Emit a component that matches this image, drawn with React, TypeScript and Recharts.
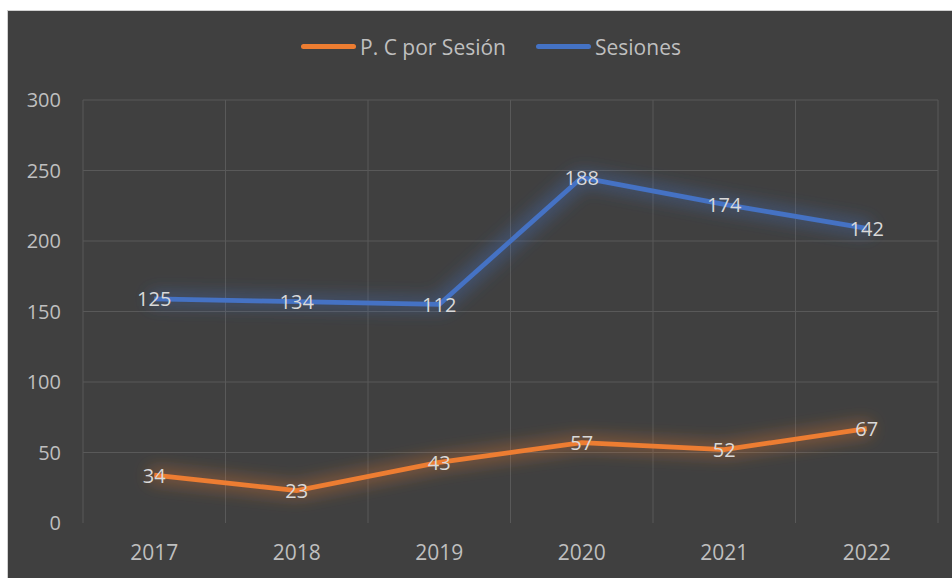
import React from 'react';
import { ComposedChart, Area, XAxis, YAxis, CartesianGrid, Legend, LabelList } from 'recharts';

const years = ['2017', '2018', '2019', '2020', '2021', '2022'];
const pcPorSesion = [34, 23, 43, 57, 52, 67];
const sesiones = [125, 134, 112, 188, 174, 142];
const yTicks = [0, 50, 100, 150, 200, 250, 300];

const ORANGE = '#ED7D31';
const BLUE = '#4472C4';
const BG = '#404040';
const GRID = '#595959';
const AXIS_TEXT = '#BFBFBF';
const LABEL_TEXT = '#D9D9D9';
const FONT = '"Open Sans", "Noto Sans", sans-serif';

const data = years.map((y, i) => ({ year: y, pc: pcPorSesion[i], ses: sesiones[i] }));

const seriesInfo = [
  { key: 'pc', name: 'P. C por Sesión', color: ORANGE },
  { key: 'ses', name: 'Sesiones', color: BLUE },
];

const renderLabel = (props: any) => {
  const { x, y, value } = props;
  return (
    <text x={x} y={y} textAnchor="middle" dominantBaseline="central" fill={LABEL_TEXT} fontSize={20} fontFamily={FONT}>
      {value}
    </text>
  );
};

const LegendContent = () => (
  <div style={{ display: 'flex', justifyContent: 'center', alignItems: 'center', paddingLeft: 22, fontFamily: FONT, fontSize: 21, color: AXIS_TEXT, height: 27 }}>
    {seriesInfo.map((s, i) => (
      <div key={s.key} style={{ display: 'flex', alignItems: 'center', marginRight: i === 0 ? 30 : 0 }}>
        <div style={{ width: 55, height: 5, borderRadius: 3, background: s.color, marginRight: 4 }} />
        <span>{s.name}</span>
      </div>
    ))}
  </div>
);

const glowFilter = (id: string) => (
  <filter id={id} x="-20%" y="-60%" width="140%" height="220%">
    <feMorphology in="SourceGraphic" operator="dilate" radius="5" result="d" />
    <feGaussianBlur in="d" stdDeviation="8" result="b" />
    <feComponentTransfer in="b" result="bt">
      <feFuncA type="linear" slope="0.35" />
    </feComponentTransfer>
    <feMerge>
      <feMergeNode in="bt" />
      <feMergeNode in="SourceGraphic" />
    </feMerge>
  </filter>
);

export default function App() {
  return (
    <div style={{ position: 'fixed', left: 7, top: 10, borderLeft: '1px solid #D0D0D0', borderTop: '1px solid #D0D0D0', background: BG, width: 944, height: 567 }}>
      <style>{`.glow-orange .recharts-area-curve{filter:url(#glowO);} .glow-blue .recharts-area-curve{filter:url(#glowB);}`}</style>
      <svg width={0} height={0} style={{ position: 'absolute' }}>
        <defs>
          {glowFilter('glowO')}
          {glowFilter('glowB')}
        </defs>
      </svg>
      <ComposedChart width={944} height={567} data={data} margin={{ top: 62, right: 14, bottom: 25, left: 0 }}>
        <CartesianGrid
          stroke={GRID}
          strokeWidth={1}
          horizontalCoordinatesGenerator={({ offset }: any) =>
            Array.from({ length: yTicks.length - 1 }, (_, i) => offset.top + (i * offset.height) / (yTicks.length - 1))
          }
          verticalCoordinatesGenerator={({ offset }: any) =>
            Array.from({ length: years.length + 1 }, (_, i) => offset.left + (i * offset.width) / years.length)
          }
        />
        <XAxis
          dataKey="year"
          scale="band"
          height={30}
          axisLine={false}
          tickLine={false}
          tickSize={0}
          tickMargin={22}
          tick={{ fill: AXIS_TEXT, fontSize: 21, fontFamily: FONT }}
        />
        <YAxis
          width={75}
          domain={[0, 300]}
          ticks={yTicks}
          axisLine={false}
          tickLine={false}
          tickSize={0}
          tickMargin={22}
          tick={{ fill: AXIS_TEXT, fontSize: 20, fontFamily: FONT }}
        />
        <Legend verticalAlign="top" wrapperStyle={{ top: 22, left: 0, width: 944 }} content={<LegendContent />} />
        <Area
          className="glow-orange"
          type="linear"
          dataKey="pc"
          name="P. C por Sesión"
          stackId="s"
          stroke={ORANGE}
          strokeWidth={4.8}
          fill="none"
          fillOpacity={0}
          dot={false}
          activeDot={false}
          isAnimationActive={false}
        >
          <LabelList dataKey="pc" content={renderLabel} />
        </Area>
        <Area
          className="glow-blue"
          type="linear"
          dataKey="ses"
          name="Sesiones"
          stackId="s"
          stroke={BLUE}
          strokeWidth={4.8}
          fill="none"
          fillOpacity={0}
          dot={false}
          activeDot={false}
          isAnimationActive={false}
        >
          <LabelList dataKey="ses" content={renderLabel} />
        </Area>
      </ComposedChart>
    </div>
  );
}
